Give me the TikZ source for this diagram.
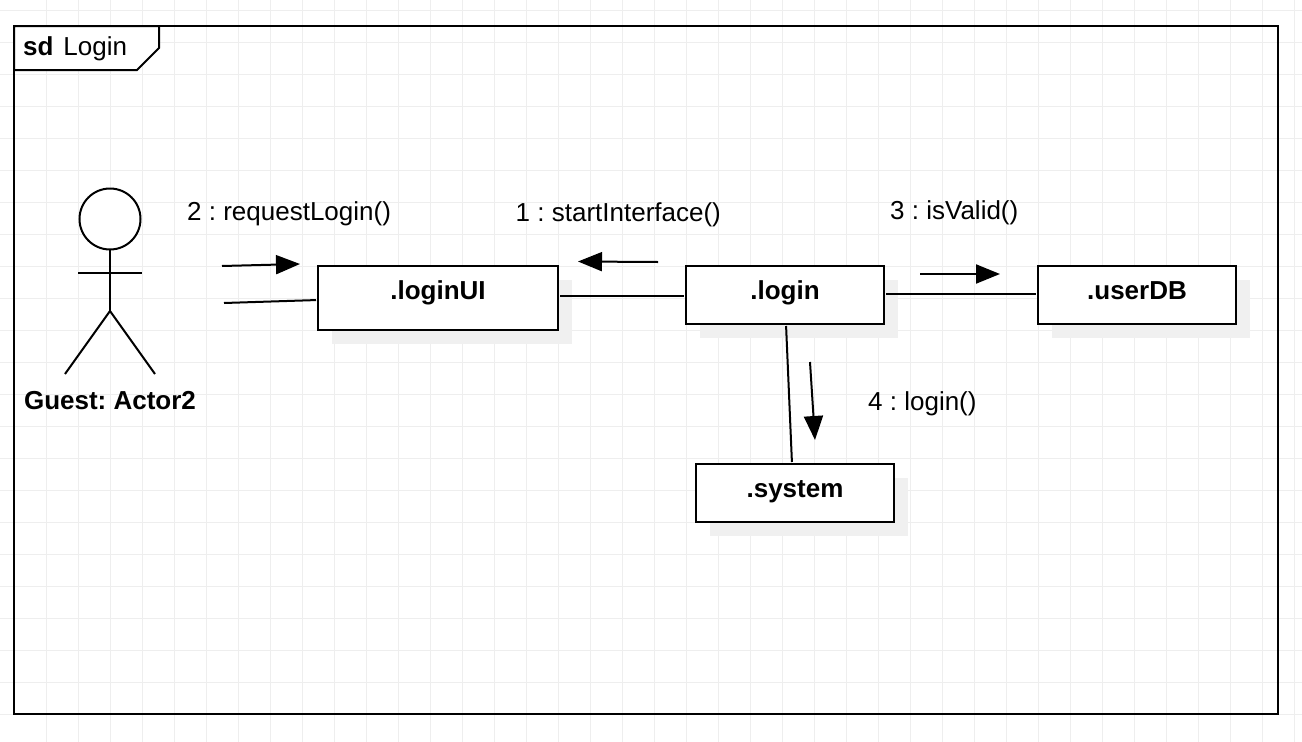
\documentclass[tikz,border=0pt]{standalone}
\usepackage{fontspec}
\setmainfont{Liberation Sans}
\usepackage{tikz}
\usetikzlibrary{arrows.meta, positioning, calc, shadows}
\frenchspacing
\definecolor{gridgray}{HTML}{EEEEEE}
\definecolor{shadowgray}{HTML}{F0F0F0}
\tikzstyle{box} = [rectangle, draw=black, fill=white, line width=2pt, outer sep=0pt, inner xsep=0pt, inner ysep=0pt, minimum width=198pt, text height=33pt, text depth=25pt, font=\fontsize{26}{31}\selectfont\bfseries, drop shadow={shadow xshift=14pt, shadow yshift=-14pt, fill=shadowgray, opacity=1}]
\tikzstyle{link} = [line width=2pt, shorten <=2pt, shorten >=2pt]
\tikzstyle{arrow} = [line width=2pt, -{Triangle[length=24pt, width=19pt]}]
\tikzstyle{msg} = [anchor=base west, inner sep=0pt, font=\fontsize{26}{31}\selectfont]

\begin{document}
\begin{tikzpicture}[x=1pt, y=-1pt]
  \useasboundingbox[fill=white] (0,0) rectangle (1302,742);
  % grid
  \foreach \gx in {46,78,...,1302} \draw[gridgray, line width=1pt] (\gx,0) -- (\gx,742);
  \foreach \gy in {10,42,...,742} \draw[gridgray, line width=1pt] (0,\gy) -- (1302,\gy);

  % frame
  \node[draw=black, line width=2pt, outer sep=0pt, minimum width=1264pt, minimum height=688pt] (frame) at (646,370) {};
  \draw[line width=2pt, fill=white] (frame.north west) -- (159,26) -- (159,48) -- (137,70) -- (14,70) -- cycle;
  \node[msg, font=\fontsize{26}{31}\selectfont\bfseries] (sd) at (23,55) {sd};
  \node[msg, right=9.5pt of sd.base east, anchor=base west] (title) {Login};

  % actor
  \node[circle, draw=black, fill=white, line width=2pt, outer sep=0pt, minimum size=61pt, inner sep=0pt] (head) at (110,219) {};
  \draw[line width=2pt] (head.south) -- (110,311) coordinate (hip);
  \draw[line width=2pt] (78,273) -- (142,273);
  \draw[line width=2pt] (65,374) -- (hip) -- (155,374);
  \node[anchor=base, inner sep=0pt, font=\fontsize{26}{31}\selectfont\bfseries] (guest) at (110,409) {Guest: Actor2};

  % objects
  \node[box, text depth=31pt, minimum width=240pt] (loginUI) at (438,298) {.loginUI};
  \node[box, right=128pt of loginUI.north east, anchor=north west] (login) {.login};
  \node[box, right=154pt of login] (userDB) {.userDB};
  \node[box, below=140pt of login, xshift=10pt] (system) {.system};

  % links
  \coordinate (actorR) at (224,303);
  \draw[line width=2pt, shorten >=2pt] (actorR) -- ($(loginUI.west)+(0,2)$);
  \draw[link] ($(loginUI.east)+(0,-2)$) -- ($(login.west)+(0,1)$);
  \draw[link] ($(login.east)+(0,-1)$) -- ($(userDB.west)+(0,-1)$);
  \draw[link] ($(login.south)+(1,0)$) -- ($(system.north)+(-3,0)$);

  % messages
  \coordinate (m2a) at (222,266);
  \coordinate (m2b) at (300,264);
  \coordinate (m1a) at (658,262);
  \coordinate (m1b) at (578,261.5);
  \coordinate (m3a) at (920,274);
  \coordinate (m3b) at (1000,274);
  \coordinate (m4a) at (810,362);
  \coordinate (m4b) at (815,440);
  \draw[arrow] (m2a) -- (m2b);
  \draw[arrow] (m1a) -- (m1b);
  \draw[arrow] (m3a) -- (m3b);
  \draw[arrow] (m4a) -- (m4b);
  \node[msg] (l2) at (187,220) {2 : requestLogin()};
  \node[msg] (l1) at (515.5,221) {1 : startInterface()};
  \node[msg] (l3) at (890,219) {3 : isValid()};
  \node[msg] (l4) at (868,410) {4 : login()};
\end{tikzpicture}
\end{document}
